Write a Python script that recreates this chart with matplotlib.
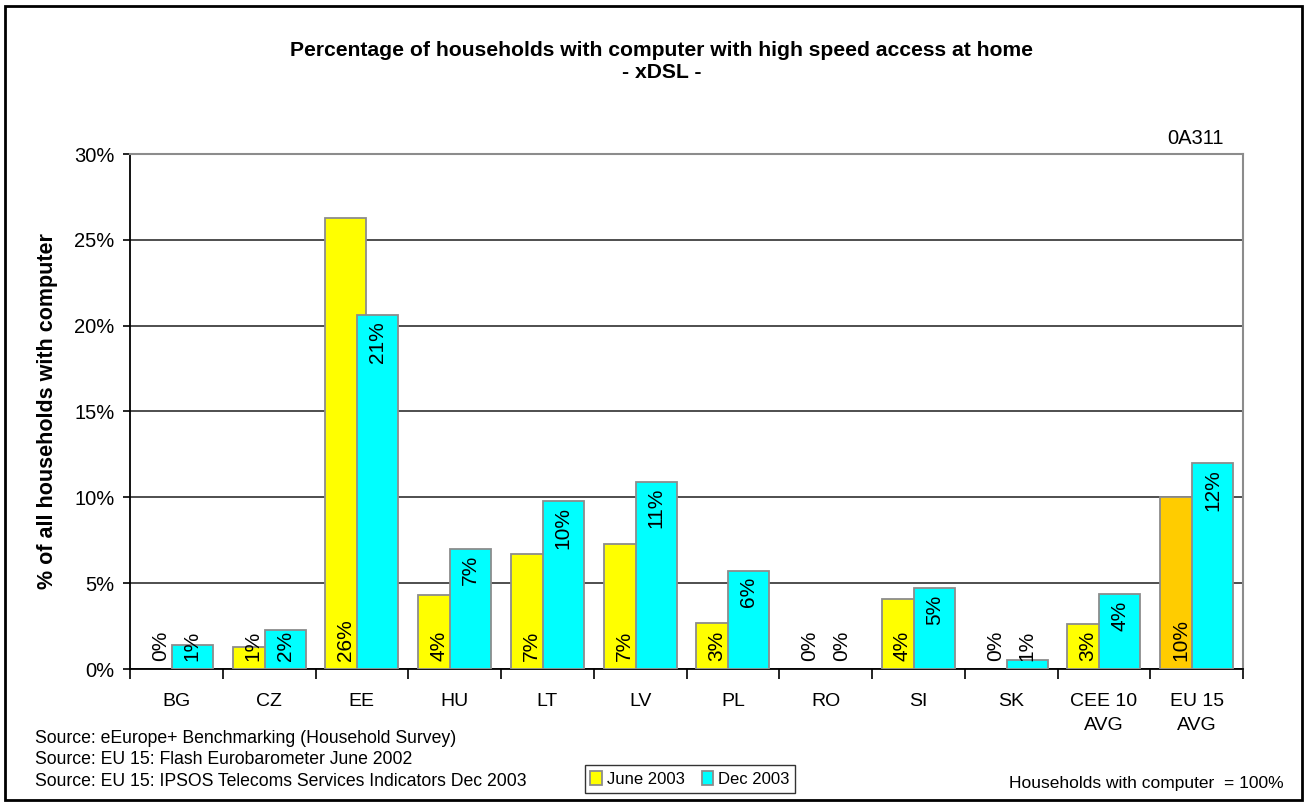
import matplotlib.pyplot as plt
import numpy as np
from matplotlib.patches import Rectangle

plt.rcParams['font.family'] = ['Liberation Sans', 'DejaVu Sans']

# ------------------ DATA ------------------ #
paises = ["BG", "CZ", "EE", "HU", "LT", "LV", "PL", "RO", "SI", "SK", "CEE 10\nAVG", "EU 15\nAVG"]
junho_2003 = [0.0, 1.3, 26.3, 4.3, 6.7, 7.3, 2.7, 0.0, 4.1, 0.0, 2.6, 10.0]
dez_2003 = [1.4, 2.3, 20.6, 7.0, 9.8, 10.9, 5.7, 0.0, 4.7, 0.5, 4.35, 12.0]
y_ticks = [0, 5, 10, 15, 20, 25, 30]

# ------------------ FIGURA ------------------ #
fig = plt.figure(figsize=(13.08, 8.05), dpi=100)
ax = fig.add_axes([130 / 1308, 1 - 669 / 805, (1243 - 130) / 1308, (669 - 154) / 805])

x = np.arange(len(paises))
largura = 0.442
desloc = 0.1725
cores_junho = ["#FFFF00"] * (len(paises) - 1) + ["#FFCC00"]
borda = "#8C8C8C"

barras_j = ax.bar(x - desloc, junho_2003, largura, color=cores_junho, edgecolor=borda, linewidth=1.3, zorder=3)
barras_d = ax.bar(x + desloc, dez_2003, largura, color="#00FFFF", edgecolor=borda, linewidth=1.3, zorder=4)

# barras com valor zero nao desenham contorno
for b in list(barras_j) + list(barras_d):
    if b.get_height() == 0:
        b.set_linewidth(0)

# rotulos de valor
for i in range(len(paises)):
    ax.text(x[i] - desloc, 0.45, f"{junho_2003[i]:.0f}%", rotation=90, ha="center", va="bottom",
            fontsize=15, zorder=6)
    v = dez_2003[i]
    rotulo = f"{v:.0f}%" if v != 0.5 else "1%"
    if v > 3.5:
        ax.text(x[i] + desloc, v - 0.35, rotulo, rotation=90, ha="center", va="top",
                fontsize=15, zorder=6)
    else:
        ax.text(x[i] + desloc, 0.45, rotulo, rotation=90, ha="center", va="bottom",
                fontsize=15, zorder=6)

ax.set_xlim(-0.5, len(paises) - 0.5)
ax.set_ylim(0, 30)
ax.set_yticks(y_ticks)
ax.set_yticklabels([f"{t}%" for t in y_ticks], fontsize=14.5)
ax.yaxis.grid(True, color="#303030", linewidth=1.2, zorder=0)
ax.set_axisbelow(True)

ax.set_xticks(x)
ax.set_xticklabels(paises, fontsize=14, linespacing=1.6)
ax.set_xticks(np.arange(-0.5, len(paises)), minor=True)
ax.tick_params(axis="x", which="major", length=0, pad=17)
ax.tick_params(axis="x", which="minor", length=7, width=1.2, color="black")
ax.tick_params(axis="y", length=5, width=1.2, pad=6)

for lado in ["top", "right"]:
    ax.spines[lado].set_color(borda)
    ax.spines[lado].set_linewidth(1.5)
for lado in ["left", "bottom"]:
    ax.spines[lado].set_color("black")
    ax.spines[lado].set_linewidth(1.3)

ax.set_ylabel("% of all households with computer", fontsize=15.5, fontweight="bold", labelpad=12)

# ------------------ TEXTOS ------------------ #
fig.text(662 / 1308, 1 - 50 / 805, "Percentage of households with computer with high speed access at home",
         ha="center", va="center", fontsize=15.2, fontweight="bold")
fig.text(662 / 1308, 1 - 73 / 805, "- xDSL -", ha="center", va="center", fontsize=15.2, fontweight="bold")
fig.text(1224 / 1308, 1 - 138 / 805, "0A311", ha="right", va="center", fontsize=14.5)

fontes = ["Source: eEurope+ Benchmarking (Household Survey)",
          "Source: EU 15: Flash Eurobarometer June 2002",
          "Source: EU 15: IPSOS Telecoms Services Indicators Dec 2003"]
for k, f in enumerate(fontes):
    fig.text(35 / 1308, 1 - (738 + 21.5 * k) / 805, f, ha="left", va="center", fontsize=12.7)

fig.text(1284 / 1308, 1 - 783 / 805, "Households with computer  = 100%", ha="right", va="center", fontsize=12.5)

# legenda
leg = fig.legend(["June 2003", "Dec 2003"], loc="center", bbox_to_anchor=(690 / 1308, 1 - 779 / 805),
                 ncol=2, fontsize=12, frameon=True, fancybox=False, handlelength=0.7, handleheight=0.9,
                 handletextpad=0.3, columnspacing=1.0, borderpad=0.35, borderaxespad=0)
leg.get_frame().set_edgecolor("black")
leg.get_frame().set_linewidth(1.0)
for h, c in zip(leg.legend_handles, ["#FFFF00", "#00FFFF"]):
    h.set_facecolor(c)
    h.set_edgecolor(borda)
    h.set_linewidth(1.3)

# moldura externa
fig.patches.append(Rectangle((5 / 1308, 5 / 805), 1297 / 1308, 794 / 805, transform=fig.transFigure,
                             fill=False, edgecolor="black", linewidth=2))

plt.savefig("out.png", dpi=100)
